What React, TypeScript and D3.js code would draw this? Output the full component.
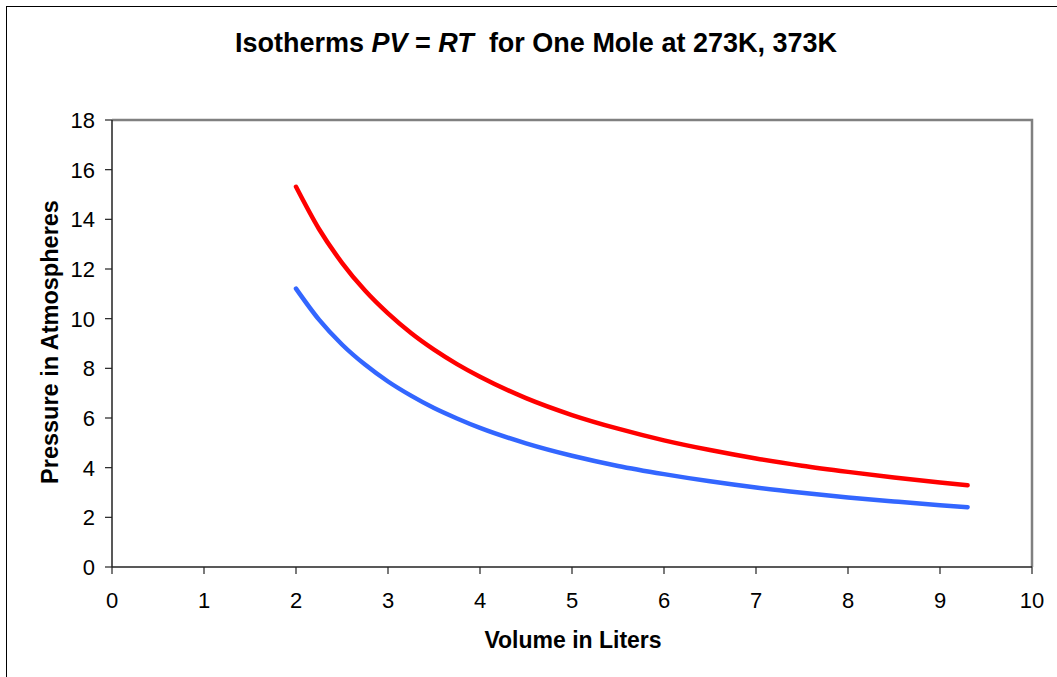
import React from "react";
import { scaleLinear, line, curveMonotoneX } from "d3";

// volumes (liters) where the curves were read
const volumes = [2, 2.25, 2.5, 2.75, 3, 3.25, 3.5, 3.75, 4, 4.5, 5, 5.5, 6, 6.5, 7, 7.5, 8, 8.5, 9, 9.3];
// 273K isotherm (blue)
const p273 = [11.21, 9.96, 8.96, 8.15, 7.47, 6.9, 6.4, 5.98, 5.6, 4.98, 4.48, 4.07, 3.74, 3.45, 3.2, 2.99, 2.8, 2.64, 2.49, 2.41];
// 373K isotherm (red)
const p373 = [15.31, 13.61, 12.25, 11.13, 10.21, 9.42, 8.75, 8.17, 7.66, 6.8, 6.12, 5.57, 5.1, 4.71, 4.37, 4.08, 3.83, 3.6, 3.4, 3.29];

const xTicks = [0, 1, 2, 3, 4, 5, 6, 7, 8, 9, 10];
const yTicks = [0, 2, 4, 6, 8, 10, 12, 14, 16, 18];

const W = 1057;
const H = 677;
const left = 112;
const right = 1032;
const top = 120;
const bottom = 567;
const font = "Arial, 'Liberation Sans', sans-serif";

export default function App() {
  const x = scaleLinear().domain([0, 10]).range([left, right]);
  const y = scaleLinear().domain([0, 18]).range([bottom, top]);
  const path = (vals: number[]) =>
    line<number>()
      .x((_, i) => x(volumes[i]))
      .y((d) => y(d))
      .curve(curveMonotoneX)(vals) || "";

  return (
    <svg
      width={W}
      height={H}
      style={{ position: "absolute", left: 0, top: 0, background: "#fff" }}
      fontFamily={font}
    >
      <rect x={6.5} y={6.5} width={1200} height={800} fill="#fff" stroke="#000" strokeWidth={1} />

      <text x={536} y={52} textAnchor="middle" fontSize={27} fontWeight="bold">
        Isotherms <tspan fontStyle="italic">PV</tspan> = <tspan fontStyle="italic">RT</tspan>
        {"\u00a0 for One Mole at 273K, 373K"}
      </text>

      {/* plot frame: top and right grey */}
      <path d={`M${left},${top}H${right}V${bottom}`} fill="none" stroke="#808080" strokeWidth={2.5} />

      {/* y axis */}
      <line x1={left} x2={left} y1={top} y2={bottom} stroke="#222" strokeWidth={1.5} />
      {yTicks.map((t) => (
        <g key={"y" + t}>
          <line x1={left - 7} x2={left} y1={y(t)} y2={y(t)} stroke="#222" strokeWidth={1.2} />
          <text x={95} y={y(t) + 8} textAnchor="end" fontSize={22}>
            {t}
          </text>
        </g>
      ))}

      {/* x axis */}
      <line x1={left} x2={right} y1={bottom} y2={bottom} stroke="#222" strokeWidth={1.5} />
      {xTicks.map((t) => (
        <g key={"x" + t}>
          <line x1={x(t)} x2={x(t)} y1={bottom} y2={bottom + 7} stroke="#222" strokeWidth={1.2} />
          <text x={x(t)} y={608} textAnchor="middle" fontSize={22}>
            {t}
          </text>
        </g>
      ))}

      <path d={path(p373)} fill="none" stroke="#ff0000" strokeWidth={4.5} strokeLinecap="round" />
      <path d={path(p273)} fill="none" stroke="#3366ff" strokeWidth={4.5} strokeLinecap="round" />

      <text x={573} y={648} textAnchor="middle" fontSize={23} fontWeight="bold">
        Volume in Liters
      </text>
      <text
        transform={`translate(58,342) rotate(-90)`}
        textAnchor="middle"
        fontSize={23.5}
        fontWeight="bold"
      >
        Pressure in Atmospheres
      </text>
    </svg>
  );
}
